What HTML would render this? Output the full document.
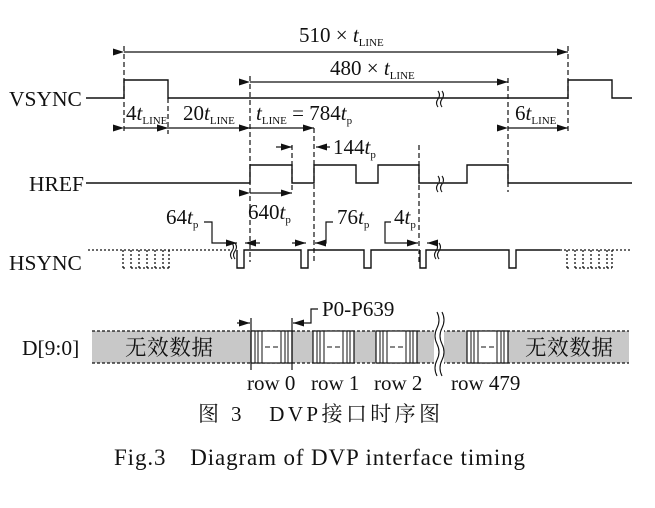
<!DOCTYPE html>
<html><head><meta charset="utf-8"><style>
html,body{margin:0;padding:0;background:#fff;}
svg{display:block;}
text{font-family:"Liberation Serif","Noto Serif CJK SC",serif;fill:#111;}
</style></head><body>
<svg width="655" height="508" viewBox="0 0 655 508" xmlns="http://www.w3.org/2000/svg">
<defs>
<marker id="a" viewBox="0 0 11 7" refX="11" refY="3.5" markerWidth="11" markerHeight="7" orient="auto" markerUnits="userSpaceOnUse"><path d="M0,0 L11,3.5 L0,7 z" fill="#111"/></marker>
<g id="blk">
<rect x="0" y="0" width="41" height="32" fill="#fff" stroke="#111" stroke-width="1.2"/>
<path d="M4,0V32M7,0V32M11,0V32M30,0V32M34,0V32M37,0V32" stroke="#111" stroke-width="1"/>
<path d="M14,16h5M22,16h5" stroke="#111" stroke-width="1"/>
</g>
</defs>
<g stroke="#111" stroke-width="1.4" fill="none">
<path d="M86,98H124V80H168V98H568V80H612V98H632"/>
<path d="M86,183H250V165H292V183H314V165H356V183H378V165H419V183H467V165H508V183H632"/>
<path d="M237,250V268H244V250H301V268H308V250H364V268H371V250H418M420,250V268H426V250H509V268H516V250H560"/>
</g>
<g stroke="#111" stroke-width="1.2" stroke-dasharray="5,3" fill="none">
<path d="M124,46V134M568,46V134M168,98V134M250,76V262M508,78V192M314,128V262M292,145V192M419,145V265"/>
</g>
<g stroke="#111" stroke-width="1.3" stroke-dasharray="2,2" fill="none">
<path d="M88,250H231M560,250H630"/>
<path d="M123,250V268M131,250V268M139,250V268M147,250V268M155,250V268M163,250V268M169,250V268M131,268H169M123,268H127"/>
<path d="M567,250V268M575,250V268M583,250V268M591,250V268M599,250V268M607,250V268M612,250V268M575,268H612M567,268H571"/>
</g>
<g stroke="#111" stroke-width="1.1" fill="none">
<path d="M438,91q3,4 0,8q-3,4 0,8M442,91q3,4 0,8q-3,4 0,8" />
<path d="M438,176q3,4 0,8q-3,4 0,8M442,176q3,4 0,8q-3,4 0,8" fill="#fff"/>
<path d="M232,243q3,4 0,8q-3,4 0,8M235,243q3,4 0,8q-3,4 0,8"/>
<path d="M436,243q3,4 0,8q-3,4 0,8M439,243q3,4 0,8q-3,4 0,8"/>
</g>
<g stroke="#111" stroke-width="1.2" fill="none">
<path d="M124,52H568" marker-start="url(#a)" marker-end="url(#a)"/>
<path d="M250,82H508" marker-start="url(#a)" marker-end="url(#a)"/>
<path d="M124,128H168" marker-start="url(#a)" marker-end="url(#a)"/>
<path d="M168,128H250" marker-start="url(#a)" marker-end="url(#a)"/>
<path d="M250,128H314" marker-start="url(#a)" marker-end="url(#a)"/>
<path d="M508,128H568" marker-start="url(#a)" marker-end="url(#a)"/>
<path d="M250,193H292" marker-start="url(#a)" marker-end="url(#a)"/>
<path d="M276,147H292" marker-end="url(#a)"/>
<path d="M330,147H316" marker-end="url(#a)"/>
<path d="M204,222H212V243H237" marker-end="url(#a)"/>
<path d="M260,243H245" marker-end="url(#a)"/>
<path d="M292,243H306" marker-end="url(#a)"/>
<path d="M333,222H326V243H315" marker-end="url(#a)"/>
<path d="M391,222H385V243H418" marker-end="url(#a)"/>
<path d="M438,243H427" marker-end="url(#a)"/>
<path d="M237,323H250" marker-end="url(#a)"/>
<path d="M318,309H311V323H293" marker-end="url(#a)"/>
</g>
<rect x="92" y="331" width="537" height="32" fill="#c8c8c8"/>
<path d="M92,331H629M92,363H629" stroke="#111" stroke-width="1.2" stroke-dasharray="3,2"/>
<use href="#blk" x="251" y="331"/>
<use href="#blk" x="313" y="331"/>
<use href="#blk" x="376" y="331"/>
<use href="#blk" x="467" y="331"/>
<path d="M251,318V370M292,318V370" stroke="#111" stroke-width="1.2"/>
<rect x="434" y="326" width="10" height="42" fill="#fff"/>
<path d="M437,312q4,8 0,16q-4,8 0,16q4,8 0,16q-4,8 0,16M442,312q4,8 0,16q-4,8 0,16q4,8 0,16q-4,8 0,16" stroke="#111" stroke-width="1.1" fill="none"/>
<g font-size="21.5">
<text x="9" y="106">VSYNC</text>
<text x="29" y="191">HREF</text>
<text x="9" y="270">HSYNC</text>
<text x="22" y="355">D[9:0]</text>
</g>
<g font-size="21">
<text x="299" y="42">510 ×  <tspan font-style="italic">t</tspan><tspan font-size="11" dy="4">LINE</tspan></text>
<text x="330" y="75">480 ×  <tspan font-style="italic">t</tspan><tspan font-size="11" dy="4">LINE</tspan></text>
<text x="126" y="120">4<tspan font-style="italic">t</tspan><tspan font-size="11" dy="4">LINE</tspan></text>
<text x="183" y="120">20<tspan font-style="italic">t</tspan><tspan font-size="11" dy="4">LINE</tspan></text>
<text x="256" y="120"><tspan font-style="italic">t</tspan><tspan font-size="11" dy="4">LINE</tspan><tspan dy="-4"> = 784</tspan><tspan font-style="italic">t</tspan><tspan font-size="11" dy="4">p</tspan></text>
<text x="515" y="120">6<tspan font-style="italic">t</tspan><tspan font-size="11" dy="4">LINE</tspan></text>
<text x="333" y="154">144<tspan font-style="italic">t</tspan><tspan font-size="11" dy="4">p</tspan></text>
<text x="248" y="219">640<tspan font-style="italic">t</tspan><tspan font-size="11" dy="4">p</tspan></text>
<text x="166" y="224">64<tspan font-style="italic">t</tspan><tspan font-size="11" dy="4">p</tspan></text>
<text x="337" y="224">76<tspan font-style="italic">t</tspan><tspan font-size="11" dy="4">p</tspan></text>
<text x="394" y="224">4<tspan font-style="italic">t</tspan><tspan font-size="11" dy="4">p</tspan></text>
<text x="322" y="316">P0-P639</text>
<text x="247" y="390">row 0</text>
<text x="311" y="390">row 1</text>
<text x="374" y="390">row 2</text>
<text x="451" y="390">row 479</text>
</g>
<g font-size="21.5">
<text x="125" y="355" textLength="88" style="font-family:'Noto Serif CJK SC','Noto Sans CJK SC',serif">无效数据</text>
<text x="525" y="355" textLength="88" style="font-family:'Noto Serif CJK SC','Noto Sans CJK SC',serif">无效数据</text>
</g>
<text x="198" y="421" font-size="21" textLength="242" style="font-family:'Liberation Serif','Noto Serif CJK SC',serif" fill="#222">图 3　DVP接口时序图</text>
<text x="114" y="465" font-size="23" textLength="411" fill="#333">Fig.3　Diagram of DVP interface timing</text>
</svg>
</body></html>
